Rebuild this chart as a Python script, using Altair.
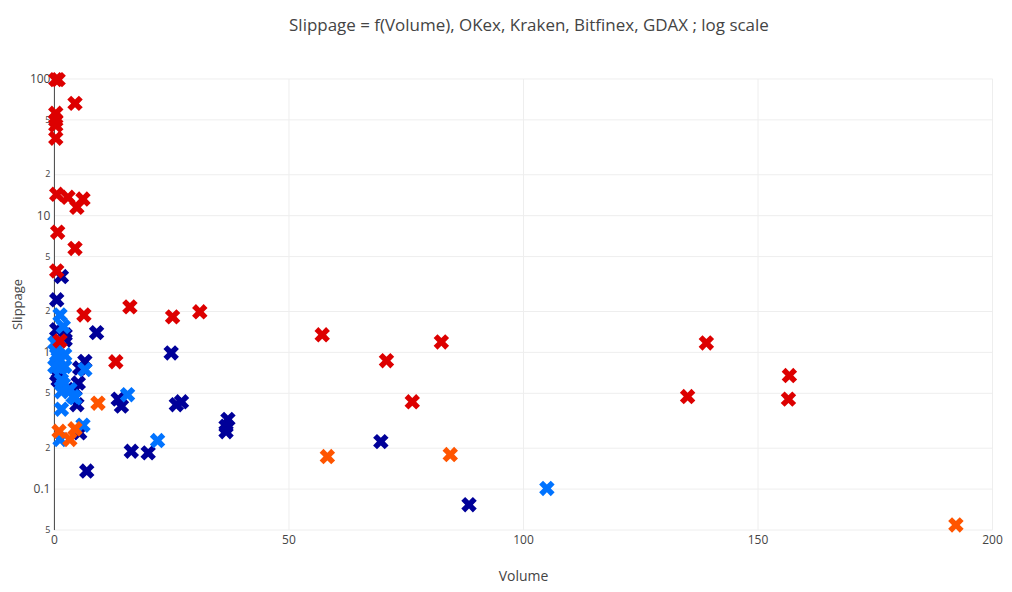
import altair as alt
import pandas as pd

# values (Volume, Slippage)
kraken_x = [1.6, 0.6, 0.6, 2.4, 2.4, 9.1, 0.9, 0.6, 6.6, 5.5, 5.2, 4.5, 4.9, 13.7,
            14.4, 5.5, 7.0, 16.5, 20.1, 25.0, 26.1, 27.2, 37.1, 36.7, 36.7, 69.7, 88.5]
kraken_y = [3.55, 2.4, 1.45, 1.22, 1.33, 1.38, 0.62, 0.68, 0.85, 0.76, 0.59, 0.53, 0.41, 0.45,
            0.40, 0.255, 0.134, 0.187, 0.182, 0.98, 0.41, 0.43, 0.32, 0.285, 0.26, 0.22, 0.076]

gdax_x = [1.3, 2.0, 0.9, 0.2, 0.9, 2.3, 2.3, 0.2, 1.3, 1.6, 2.0, 3.4, 1.6, 4.5,
          6.6, 1.6, 1.3, 6.2, 15.7, 22.1, 105.1, 4.1, 1.1, 0.6]
gdax_y = [1.86, 1.53, 1.09, 1.16, 0.90, 0.95, 0.78, 0.78, 0.76, 0.62, 0.575, 0.53, 0.51, 0.46,
          0.74, 0.38, 0.228, 0.29, 0.485, 0.224, 0.1, 0.47, 0.85, 0.95]

bitfinex_x = [9.4, 1.1, 4.5, 3.4, 58.3, 84.5, 192.3]
bitfinex_y = [0.42, 0.262, 0.273, 0.228, 0.171, 0.177, 0.054]

okex_x = [0.4, 0.9, 4.5, 0.4, 0.4, 0.4, 0.4, 0.6, 3.0, 6.2, 4.9, 0.8, 4.5, 0.6,
          6.4, 16.2, 25.3, 31.1, 1.3, 13.2, 57.2, 70.9, 76.4, 82.6, 135.1, 139.1, 156.8, 156.6]
okex_y = [98, 98, 65.7, 55.6, 49.4, 45.4, 36.5, 14.2, 13.5, 13.1, 11.4, 7.5, 5.7, 3.9,
          1.86, 2.13, 1.80, 1.96, 1.2, 0.845, 1.33, 0.86, 0.43, 1.18, 0.47, 1.16, 0.67, 0.45]

exchanges = ["Kraken", "GDAX", "Bitfinex", "OKex"]
colors = ["#000099", "#0073ff", "#ff5500", "#dd0000"]
y_ticks = [0.05, 0.1, 0.2, 0.5, 1, 2, 5, 10, 20, 50, 100]

frames = []
for name, xs, ys in zip(exchanges,
                        [kraken_x, gdax_x, bitfinex_x, okex_x],
                        [kraken_y, gdax_y, bitfinex_y, okex_y]):
    frames.append(pd.DataFrame({"Volume": xs, "Slippage": ys, "Exchange": name}))
df = pd.concat(frames, ignore_index=True)

# plotly-like "x" symbol
x_symbol = "M0,-0.5L0.5,-1L1,-0.5L0.5,0L1,0.5L0.5,1L0,0.5L-0.5,1L-1,0.5L-0.5,0L-1,-0.5L-0.5,-1Z"

is_major = "abs(log(datum.value)/LN10 - round(log(datum.value)/LN10)) < 0.01"

chart = alt.Chart(df).mark_point(
    shape=x_symbol, filled=True, size=240, opacity=1
).encode(
    x=alt.X("Volume:Q",
            scale=alt.Scale(domain=[0, 200], nice=False),
            axis=alt.Axis(values=[0, 50, 100, 150, 200], domain=False, ticks=False,
                          labelFlush=False, labelPadding=5, labelFontSize=12, titleY=47,
                          titleBaseline="middle", titleFontSize=14)),
    y=alt.Y("Slippage:Q",
            scale=alt.Scale(type="log", domain=[0.05, 100], nice=False),
            axis=alt.Axis(values=y_ticks, domain=True, domainColor="#444444",
                          ticks=False, labelPadding=4, labelFlush=False,
                          labelExpr=is_major + " ? format(datum.value, '~g') : "
                          "format(round(datum.value / pow(10, floor(log(datum.value)/LN10 + 0.000001))), 'd')",
                          labelFontSize={"condition": {"test": is_major, "value": 12}, "value": 9},
                          titleX=-36, titleY=226, titleAngle=270,
                          titleAlign="center", titleBaseline="middle", titleFontSize=13)),
    color=alt.Color("Exchange:N", scale=alt.Scale(domain=exchanges, range=colors), legend=None),
    tooltip=["Exchange", "Volume", "Slippage"]
).properties(
    width=940,
    height=452,
    autosize=alt.AutoSizeParams(type="none"),
    padding={"left": 46, "top": 70, "right": 12, "bottom": 62},
    background="white",
    title=alt.Title("Slippage = f(Volume), OKex, Kraken, Bitfinex, GDAX ; log scale",
                    fontSize=17, font="Open Sans", fontWeight="normal", color="#444444",
                    anchor="middle", dx=6, offset=37)
).configure_axis(
    grid=True,
    gridColor="#eeeeee",
    gridWidth=1,
    labelColor="#444444",
    titleColor="#444444",
    labelFont="Open Sans",
    titleFont="Open Sans",
    titleFontWeight="normal"
).configure_view(
    strokeWidth=0
)

chart.save("out.html", embed_options={"renderer": "svg", "actions": False})
